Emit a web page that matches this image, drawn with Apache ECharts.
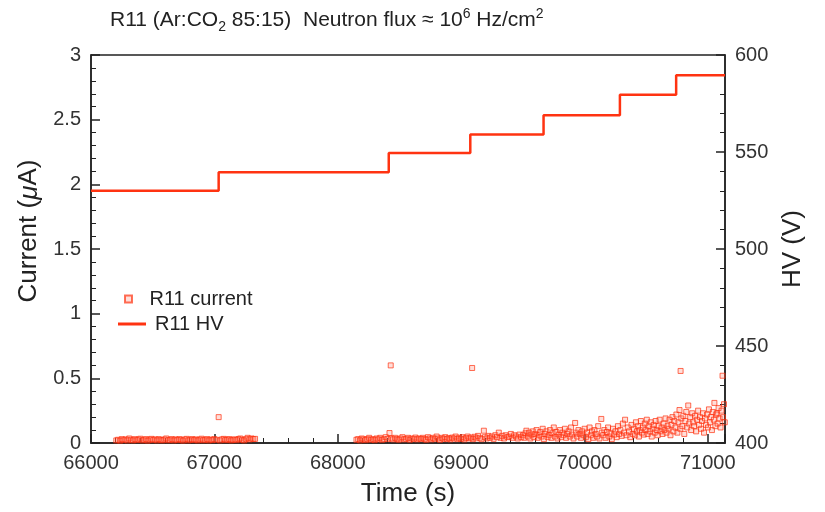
<!DOCTYPE html>
<html>
<head>
<meta charset="utf-8">
<script src="https://cdn.jsdelivr.net/npm/echarts@6/dist/echarts.min.js"></script>
<style>html,body{margin:0;padding:0;background:#fff}#c{width:825px;height:512px}</style>
</head>
<body>
<div id="c"></div>
<script>
// HV steps: time at which each level starts, and level (V)
const hvTimes = [66000, 67035, 68414, 69075, 69669, 70288, 70744, 71140];
const hvValues = [530, 539.5, 549.5, 559, 569, 579.5, 589.5, 589.5];

// Current measurements (time s, current uA)
const currentTimes = [
66205,66220,66236,66250,66265,66281,66296,66310,66326,66341,66355,66371,66386,66400,66416,66431,66446,66460,66476,66491,
66505,66521,66536,66550,66566,66581,66596,66610,66626,66641,66655,66671,66686,66700,66716,66731,66746,66760,66776,66791,
66805,66821,66836,66850,66866,66881,66896,66910,66926,66941,66955,66971,66986,67000,67016,67035,67046,67061,67076,67090,
67106,67121,67136,67150,67166,67181,67196,67210,67226,67241,67256,67270,67286,67301,67316,67330,
68152,68166,68181,68195,68210,68226,68240,68255,68270,68286,68300,68315,68330,68345,68360,68375,68390,68405,68420,68430,
68436,68450,68465,68480,68495,68510,68525,68540,68555,68570,68585,68600,68615,68630,68645,68660,68675,68690,
68705,68718,68732,68746,68760,68774,68788,68802,68816,68830,68844,68858,68872,68886,68900,68914,68928,68942,68956,68970,
68984,68998,69012,69026,69040,69054,69068,69082,69090,69096,69110,69124,69138,69152,69166,69185,69194,69208,69222,69236,
69250,69264,69278,69292,69306,69320,69334,69348,69362,69376,69390,69404,69418,69432,69446,69460,69474,69488,
69502,69512,69522,69530,69542,69552,69562,69572,69582,69592,69602,69612,69622,69632,69642,69652,69662,69672,69682,69692,
69702,69712,69722,69732,69742,69752,69762,69772,69782,69792,69802,69812,69822,69832,69842,69852,69862,69872,69882,69892,
69902,69912,69925,69932,69942,69952,69962,69972,69982,69992,
70002,70012,70022,70032,70042,70052,70062,70072,70082,70092,70102,70112,70122,70137,70142,70152,70162,70172,70182,70192,
70202,70212,70222,70232,70242,70252,70262,70272,70282,70292,70302,70312,70322,70330,70342,70352,70362,70372,70382,70392,
70402,70410,70418,70426,70434,70442,70450,70458,70466,70474,70482,70490,70498,70506,70514,70522,70530,70538,70546,70554,
70562,70570,70578,70586,70594,70602,70610,70618,70626,70634,70642,70650,70658,70666,70674,70682,70690,70698,
70706,70714,70722,70730,70738,70746,70754,70762,70771,70778,70780,70786,70794,70802,70810,70818,70826,70834,70842,70850,
70858,70866,70874,70882,70890,70898,70906,70914,70922,70930,70938,70946,70954,70962,70970,70978,70986,70994,71002,71010,
71018,71026,71034,71042,71050,71054,71062,71070,71073,71080,71088,71096,71104,71112,71120,71124,71132,71138
];
const currentValues = [
0.02,0.025,0.018,0.03,0.022,0.028,0.02,0.035,0.025,0.02,0.03,0.022,0.027,0.033,0.02,0.025,0.03,0.018,0.026,0.032,
0.022,0.028,0.02,0.03,0.024,0.02,0.027,0.035,0.021,0.025,0.03,0.02,0.028,0.022,0.03,0.025,0.018,0.027,0.032,0.02,
0.025,0.03,0.022,0.028,0.02,0.026,0.033,0.021,0.025,0.03,0.02,0.027,0.022,0.03,0.025,0.2,0.02,0.028,0.032,0.022,
0.026,0.03,0.02,0.025,0.028,0.022,0.03,0.035,0.025,0.02,0.03,0.04,0.028,0.035,0.03,0.032,
0.025,0.03,0.02,0.035,0.028,0.022,0.03,0.04,0.025,0.03,0.022,0.035,0.028,0.04,0.025,0.03,0.045,0.03,0.077,0.6,
0.035,0.028,0.04,0.03,0.025,0.035,0.045,0.028,0.032,0.04,0.025,0.035,0.03,0.042,0.028,0.035,0.03,0.04,
0.03,0.025,0.045,0.035,0.028,0.04,0.03,0.05,0.035,0.025,0.04,0.032,0.045,0.03,0.038,0.028,0.042,0.035,0.05,0.03,
0.04,0.032,0.045,0.028,0.038,0.05,0.035,0.042,0.58,0.03,0.048,0.036,0.055,0.04,0.03,0.095,0.045,0.035,0.055,0.04,
0.05,0.032,0.06,0.045,0.08,0.04,0.055,0.035,0.06,0.045,0.05,0.07,0.04,0.06,0.05,0.035,0.065,0.045,
0.06,0.04,0.075,0.095,0.05,0.08,0.035,0.065,0.09,0.045,0.07,0.1,0.04,0.06,0.085,0.05,0.11,0.03,0.07,0.09,
0.045,0.06,0.1,0.04,0.075,0.12,0.05,0.085,0.035,0.065,0.1,0.045,0.08,0.06,0.11,0.04,0.07,0.09,0.05,0.12,
0.065,0.035,0.155,0.08,0.05,0.1,0.07,0.04,0.09,0.06,
0.11,0.045,0.08,0.03,0.12,0.06,0.09,0.04,0.1,0.07,0.05,0.13,0.035,0.186,0.08,0.06,0.1,0.04,0.085,0.12,
0.05,0.075,0.03,0.11,0.065,0.09,0.045,0.13,0.07,0.1,0.055,0.15,0.08,0.18,0.06,0.12,0.09,0.045,0.14,0.07,
0.11,0.06,0.16,0.09,0.13,0.05,0.1,0.17,0.08,0.12,0.065,0.15,0.1,0.18,0.07,0.13,0.09,0.16,0.05,0.11,
0.14,0.08,0.17,0.1,0.06,0.13,0.18,0.09,0.12,0.07,0.15,0.1,0.19,0.08,0.13,0.11,0.18,0.06,
0.14,0.2,0.09,0.17,0.12,0.22,0.08,0.16,0.255,0.11,0.557,0.19,0.13,0.21,0.07,0.17,0.24,0.12,0.29,0.15,
0.2,0.1,0.23,0.16,0.13,0.21,0.09,0.18,0.25,0.14,0.2,0.11,0.17,0.23,0.08,0.19,0.14,0.22,0.12,0.26,
0.16,0.2,0.1,0.24,0.18,0.31,0.13,0.22,0.23,0.15,0.27,0.19,0.12,0.25,0.52,0.2,0.3,0.16
];

const xTicks = [66000, 67000, 68000, 69000, 70000, 71000];
const yLeftTicks = [0, 0.5, 1, 1.5, 2, 2.5, 3];
const yRightTicks = [400, 450, 500, 550, 600];

const FONT = 'Liberation Sans';
const RED = '#ff3311';
const AX = '#222';

const currentData = currentTimes.map((t, i) => [t, currentValues[i]]);
const hvData = hvTimes.map((t, i) => [t, hvValues[i]]);

const chart = echarts.init(document.getElementById('c'), null, {renderer: 'canvas'});
const axisCommon = {
  axisLine: {show: true, lineStyle: {color: AX, width: 1.5}},
  axisTick: {show: true, inside: true, length: 9, lineStyle: {color: AX, width: 1.5}},
  minorTick: {show: true, splitNumber: 5, length: 5, lineStyle: {color: AX, width: 1}},
  splitLine: {show: false},
  axisLabel: {color: '#333', fontSize: 20, fontFamily: FONT, margin: 10},
  nameTextStyle: {color: '#222', fontSize: 26, fontFamily: FONT}
};
chart.setOption({
  animation: false,
  backgroundColor: '#fff',
  textStyle: {fontFamily: FONT},
  title: {
    text: 'R11 (Ar:CO{sub|2} 85:15)  Neutron flux ≈ 10{sup|6} Hz/cm{sup|2}',
    left: 105, top: 2,
    textStyle: {
      fontSize: 21, fontWeight: 'normal', color: '#222', fontFamily: FONT, lineHeight: 27,
      rich: {
        sub: {fontSize: 14, verticalAlign: 'bottom', lineHeight: 14, fontFamily: FONT, color: '#222'},
        sup: {fontSize: 14, verticalAlign: 'top', lineHeight: 14, fontFamily: FONT, color: '#222'}
      }
    }
  },
  grid: {left: 91, right: 100, top: 55, bottom: 69, show: true, borderColor: AX, borderWidth: 1.5, backgroundColor: 'transparent'},
  legend: [
    {
      data: [{name: 'R11 current', icon: 'path://M0,0L10,0L10,10L0,10Z'}],
      left: 119, top: 284, itemWidth: 28, itemHeight: 7,
      textStyle: {fontSize: 20, color: '#222', fontFamily: FONT, padding: [0, 0, 0, 2]}
    },
    {
      data: [{name: 'R11 HV', icon: 'rect'}],
      left: 113, top: 309, itemWidth: 28, itemHeight: 3,
      textStyle: {fontSize: 20, color: '#222', fontFamily: FONT, padding: [0, 0, 0, 4]}
    }
  ],
  xAxis: Object.assign({}, axisCommon, {
    type: 'value', min: xTicks[0], max: 71140, interval: 1000,
    name: 'Time (s)', nameLocation: 'middle', nameGap: 38,
    axisLabel: Object.assign({}, axisCommon.axisLabel, {showMaxLabel: false,
      formatter: v => xTicks.indexOf(v) >= 0 ? String(v) : ''})
  }),
  yAxis: [
    Object.assign({}, axisCommon, {
      type: 'value', min: yLeftTicks[0], max: yLeftTicks[yLeftTicks.length - 1], interval: 0.5,
      name: 'Current ({i|μ}A)', nameLocation: 'middle', nameGap: 42,
      nameTextStyle: Object.assign({}, axisCommon.nameTextStyle, {padding: [0, 0, 0, 36],
        rich: {i: {fontStyle: 'italic', fontSize: 26, fontFamily: FONT, color: '#222'}}})
    }),
    Object.assign({}, axisCommon, {
      type: 'value', position: 'right', min: yRightTicks[0], max: yRightTicks[yRightTicks.length - 1], interval: 50,
      name: 'HV (V)', nameLocation: 'middle', nameGap: 55, nameRotate: 90
    })
  ],
  series: [
    {
      name: 'R11 current', type: 'scatter', yAxisIndex: 0, data: currentData,
      symbol: 'rect', symbolSize: 5,
      itemStyle: {color: 'rgba(255,120,100,0.3)', borderColor: 'rgba(255,45,10,0.85)', borderWidth: 1},
      z: 3
    },
    {
      name: 'R11 HV', type: 'line', yAxisIndex: 1, data: hvData, step: 'end',
      showSymbol: false, symbol: 'none', lineStyle: {color: RED, width: 2.5}, itemStyle: {color: RED}, z: 4
    }
  ]
});
</script>
</body>
</html>
